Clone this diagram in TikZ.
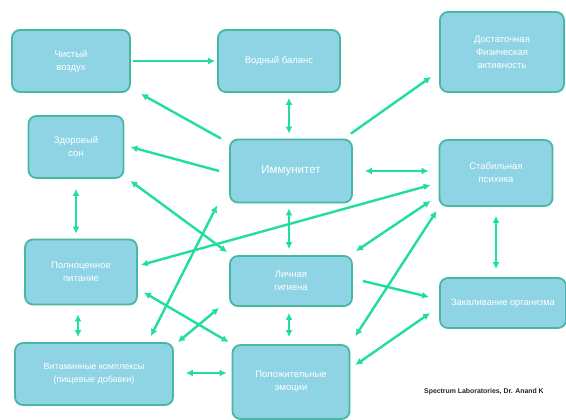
\documentclass[tikz,border=0pt]{standalone}
\usepackage{fontspec}
\setmainfont{Liberation Sans}
\usetikzlibrary{arrows.meta}
\definecolor{boxfill}{RGB}{143,212,228}
\definecolor{boxline}{RGB}{70,184,164}
\definecolor{arrowc}{RGB}{32,222,158}
\tikzset{
  box/.style={draw=boxline, line width=1.8pt, fill=boxfill, rounded corners=8pt,
    text=white, align=center, font=\fontsize{9.5}{13}\selectfont, inner sep=2pt},
  conn/.style={draw=arrowc, line width=2.4pt},
  one/.style={conn, -{Latex[length=7pt,width=7pt]}},
  two/.style={conn, {Latex[length=7pt,width=7pt]}-{Latex[length=7pt,width=7pt]}}
}
\begin{document}
\begin{tikzpicture}[x=1pt,y=-1pt]
\useasboundingbox (0,0) rectangle (566,420);
\fill[white] (0,0) rectangle (566,420);
% nodes
\node[box, minimum width=118pt, minimum height=62pt] (TL) at (71,61) {Чистый\\воздух};
\node[box, minimum width=122pt, minimum height=62pt] (TM) at (279,61) {Водный баланс};
\node[box, minimum width=124pt, minimum height=80pt] (TR) at (502,52) {Достаточная\\Физическая\\активность};
\node[box, minimum width=95pt, minimum height=62pt] (L2) at (76,147) {Здоровый\\сон};
\node[box, minimum width=122pt, minimum height=63pt, font=\fontsize{11.5}{13}\selectfont] (C) at (291,171) {Иммунитет};
\node[box, minimum width=113pt, minimum height=66pt] (R2) at (496,173) {Стабильная\\психика};
\node[box, minimum width=112pt, minimum height=65pt] (L3) at (81,272) {Полноценное\\питание};
\node[box, minimum width=122pt, minimum height=50pt] (CM) at (291,281) {Личная\\гигиена};
\node[box, minimum width=126pt, minimum height=50pt, font=\fontsize{9.3}{10}\selectfont] (R3) at (503,303) {Закаливание организма};
\node[box, minimum width=158pt, minimum height=62pt, font=\fontsize{9}{13}\selectfont] (BL) at (94,374) {Витаминные комплексы\\(пищевые добавки)};
\node[box, minimum width=117pt, minimum height=74pt] (BM) at (291,382) {Положительные\\эмоции};
\node[anchor=west, inner sep=0pt, font=\bfseries\fontsize{6.9}{7}\selectfont, text=black!85] (credit) at (424,392) {Spectrum Laboratories, Dr. Anand K};
% connectors
\draw[one] ([xshift=2pt]TL.east) -- ([xshift=-2pt]TM.west);
\draw[one] ([xshift=-8pt]C.north west) -- ([xshift=10pt,yshift=-1pt]TL.south east);
\draw[two] ([xshift=10pt,yshift=-5pt]TM.south) -- ([xshift=-2pt,yshift=5pt]C.north);
\draw[one] ([xshift=-2pt,yshift=5pt]C.north east) -- ([xshift=-8pt,yshift=16pt]TR.south west);
\draw[one] ([xshift=-10pt]C.west) -- ([xshift=6pt]L2.east);
\draw[two] ([xshift=12pt]C.east) -- ([xshift=-10pt,yshift=2pt]R2.west);
\draw[two] ([yshift=-10pt]L2.south) -- ([xshift=-5pt,yshift=5pt]L3.north);
\draw[two] ([xshift=6pt,yshift=-2pt]L2.south east) -- ([xshift=-2pt,yshift=3pt]CM.north west);
\draw[two] ([xshift=-2pt,yshift=-5pt]C.south) -- ([xshift=-2pt,yshift=6pt]CM.north);
\draw[two] ([xshift=-8pt,yshift=-12pt]R2.west) -- ([xshift=3pt,yshift=7pt]L3.east);
\draw[two] ([xshift=-12pt,yshift=-2pt]C.south west) -- ([xshift=-23pt,yshift=6pt]BL.north east);
\draw[two] ([xshift=6pt,yshift=13pt]L3.south east) -- ([xshift=-3pt,yshift=2pt]BM.north west);
\draw[two] ([xshift=-10pt,yshift=-1pt]CM.south west) -- ([xshift=4pt]BL.north east);
\draw[two] ([xshift=-3pt,yshift=-9pt]L3.south) -- ([xshift=-16pt,yshift=5pt]BL.north);
\draw[two] ([xshift=12pt,yshift=1pt]BL.east) -- ([xshift=-5pt,yshift=9pt]BM.west);
\draw[two] ([xshift=-2pt,yshift=-6pt]CM.south) -- ([xshift=-2pt,yshift=7pt]BM.north);
\draw[two] ([xshift=-8pt,yshift=6pt]R2.south west) -- ([xshift=3pt,yshift=4pt]CM.north east);
\draw[two] ([xshift=-2pt,yshift=-4pt]R2.south west) -- ([xshift=5pt,yshift=8pt]BM.north east);
\draw[one] ([xshift=10pt]CM.east) -- ([xshift=-10pt,yshift=6pt]R3.west);
\draw[two] ([xshift=-9pt,yshift=-10pt]R3.west) -- ([xshift=5pt,yshift=17pt]BM.east);
\draw[two] ([yshift=-9pt]R2.south) -- ([xshift=-7pt,yshift=8pt]R3.north);
\end{tikzpicture}
\end{document}
